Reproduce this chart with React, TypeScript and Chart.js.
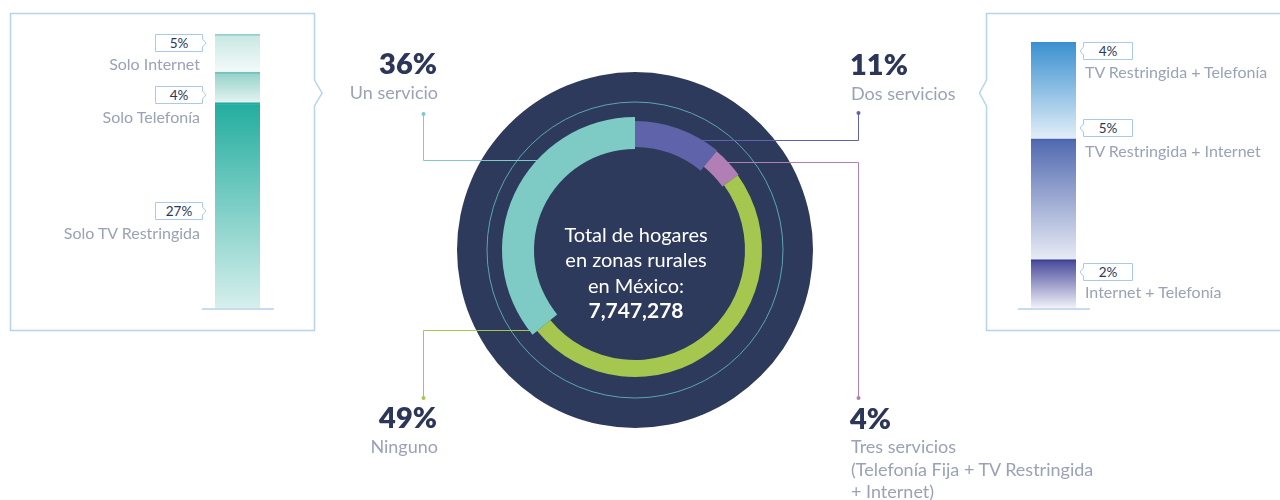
import React, { useEffect, useRef } from 'react';
import { Chart, registerables } from 'chart.js';

Chart.register(...registerables);

// ---------- data ----------
const ringLabels = ['Dos servicios', 'Tres servicios', 'Ninguno', 'Un servicio'];
const ringValues = [11, 4, 49, 36];
const ringPercentText = ['11%', '4%', '49%', '36%'];

const leftLabels = ['Solo TV Restringida', 'Solo Telefonía', 'Solo Internet'];
const leftValues = [27, 4, 5];

const rightLabels = ['Internet + Telefonía', 'TV Restringida + Internet', 'TV Restringida + Telefonía'];
const rightValues = [2, 5, 4];

const centerTitle = 'Total de hogares\nen zonas rurales\nen México:';
const centerTotal = '7,747,278';
const tresDetail = '(Telefonía Fija + TV Restringida\n+ Internet)';

// ---------- styles ----------
const FONT = 'Lato, "Noto Sans", sans-serif';
const GREY = '#9aa2b7';
const NAVY = '#2c3659';
const BOX = '#a9cbe8';

const ringColors = ['#5f63a9', '#b17fb6', '#a5c74f', '#7ecac5'];
const ringRadii = [[103, 129], [108, 128], [110, 127], [101, 133]];
// leader: dot (relative to centre), horizontal y (null = from segment mid-angle)
const leaders = [
  { dx: 223, dy: -137, hy: -110 as number | null },
  { dx: 223, dy: 148, hy: null as number | null },
  { dx: -212, dy: 148, hy: 80 as number | null },
  { dx: -212, dy: -136, hy: -90 as number | null },
];

const leftTop = ['#22ad9e', '#93d1c9', '#c8e7e3'];
const leftBottom = ['#d6efec', '#e4f3f1', '#f3faf9'];
const leftLine = ['#22ad9e', '#74c2b9', '#93d1c9'];

const rightTop = ['#46489a', '#5068b0', '#3b90d0'];
const rightBottom = ['#f1f1f8', '#e8ebf5', '#e2eef8'];
const rightLine = ['#3e4090', '#4a62ab', '#3b8fd0'];

const donutPlugin = {
  id: 'donutDecor',
  afterDatasetsUpdate(chart: any) {
    const meta = chart.getDatasetMeta(0);
    meta.data.forEach((arc: any, i: number) => {
      arc.innerRadius = ringRadii[i][0];
      arc.outerRadius = ringRadii[i][1];
    });
  },
  beforeDatasetsDraw(chart: any) {
    const meta = chart.getDatasetMeta(0);
    if (!meta.data.length) return;
    const cx = meta.data[0].x;
    const cy = meta.data[0].y;
    const ctx = chart.ctx;
    ctx.save();
    ctx.fillStyle = '#2e3a5c';
    ctx.beginPath();
    ctx.arc(cx, cy, 178, 0, Math.PI * 2);
    ctx.fill();
    ctx.strokeStyle = '#5aa6ae';
    ctx.lineWidth = 1;
    ctx.beginPath();
    ctx.arc(cx, cy, 148, 0, Math.PI * 2);
    ctx.stroke();

    meta.data.forEach((arc: any, i: number) => {
      const L = leaders[i];
      const rMid = (ringRadii[i][0] + ringRadii[i][1]) / 2;
      const mid = (arc.startAngle + arc.endAngle) / 2;
      let hy = L.hy;
      let ex: number;
      if (hy === null) {
        hy = Math.sin(mid) * ringRadii[i][1];
        ex = Math.cos(mid) * rMid;
      } else {
        const d = rMid * rMid - hy * hy;
        ex = d > 0 ? Math.sign(L.dx) * Math.sqrt(d) : Math.cos(mid) * rMid;
      }
      ctx.strokeStyle = ringColors[i];
      ctx.fillStyle = ringColors[i];
      ctx.lineWidth = 1;
      ctx.beginPath();
      ctx.moveTo(Math.round(cx + L.dx) + 0.5, cy + L.dy);
      ctx.lineTo(Math.round(cx + L.dx) + 0.5, Math.round(cy + hy) + 0.5);
      ctx.lineTo(cx + ex, Math.round(cy + hy) + 0.5);
      ctx.stroke();
      ctx.beginPath();
      ctx.arc(Math.round(cx + L.dx) + 0.5, cy + L.dy, 2, 0, Math.PI * 2);
      ctx.fill();
    });
    ctx.restore();
  },
};

function makeStack(
  canvas: HTMLCanvasElement,
  labels: string[],
  values: number[],
  tops: string[],
  bottoms: string[],
  lines: string[]
) {
  const total = values.reduce((a, b) => a + b, 0);
  return new Chart(canvas, {
    type: 'bar',
    data: {
      labels: [''],
      datasets: values.map((v, i) => ({
        label: labels[i],
        data: [v],
        barThickness: 45,
        borderWidth: { top: 2, left: 0, right: 0, bottom: 0 },
        borderSkipped: false,
        borderColor: lines[i],
        backgroundColor: (c: any) => {
          const chart = c.chart;
          const y = chart.scales && chart.scales.y;
          if (!chart.chartArea || !y) return tops[i];
          const before = values.slice(0, i).reduce((a, b) => a + b, 0);
          const y0 = y.getPixelForValue(before + v);
          const y1 = y.getPixelForValue(before);
          const g = chart.ctx.createLinearGradient(0, y0, 0, y1);
          g.addColorStop(0, tops[i]);
          g.addColorStop(1, bottoms[i]);
          return g;
        },
      })),
    },
    options: {
      animation: false,
      responsive: false,
      maintainAspectRatio: false,
      layout: { padding: 0 },
      plugins: { legend: { display: false }, tooltip: { enabled: false } },
      scales: {
        x: { display: false, stacked: true },
        y: { display: false, stacked: true, min: 0, max: total },
      },
    } as any,
  });
}

function Txt(props: {
  x: number; base: number; size: number; color: string; weight?: number;
  align?: 'left' | 'right' | 'center'; lh?: number; children: React.ReactNode;
}) {
  const { x, base, size, color, weight = 400, align = 'left', children } = props;
  const lh = props.lh ?? size * 1.2;
  const top = base - 0.987 * size - (lh - 1.2 * size) / 2;
  const st: any = {
    position: 'absolute', top, fontFamily: FONT, fontSize: size, fontWeight: weight,
    color, lineHeight: lh + 'px', whiteSpace: 'pre',
  };
  if (align === 'left') st.left = x;
  else if (align === 'right') { st.right = 1280 - x; st.textAlign = 'right'; }
  else { st.left = x - 200; st.width = 400; st.textAlign = 'center'; }
  return <div style={st}>{children}</div>;
}

function calloutPath(x0: number, y0: number, x1: number, y1: number, side: 'left' | 'right') {
  const ym = (y0 + y1) / 2;
  if (side === 'right') {
    return `M${x0},${y0} H${x1} V${ym - 4} L${x1 + 3.5},${ym} L${x1},${ym + 4} V${y1} H${x0} Z`;
  }
  return `M${x1},${y0} H${x0} V${ym - 4} L${x0 - 3.5},${ym} L${x0},${ym + 4} V${y1} H${x1} Z`;
}

function Callout({ x0, y0, x1, y1, side, text }: any) {
  return (
    <>
      <path d={calloutPath(x0, y0, x1, y1, side)} fill="#fff" stroke={BOX} strokeWidth={1} />
      <text x={(x0 + x1) / 2} y={y1 - 4} textAnchor="middle" fontFamily={FONT} fontSize={13.5} fill={NAVY}>{text}</text>
    </>
  );
}

export default function App() {
  const donutRef = useRef<HTMLCanvasElement>(null);
  const leftRef = useRef<HTMLCanvasElement>(null);
  const rightRef = useRef<HTMLCanvasElement>(null);

  useEffect(() => {
    const donut = new Chart(donutRef.current!, {
      type: 'doughnut',
      data: {
        labels: ringLabels,
        datasets: [{ data: ringValues, backgroundColor: ringColors, borderWidth: 0 }],
      },
      options: {
        animation: false,
        responsive: false,
        maintainAspectRatio: false,
        layout: { padding: 0 },
        radius: 133,
        cutout: 101,
        rotation: 0,
        plugins: { legend: { display: false }, tooltip: { enabled: false } },
      } as any,
      plugins: [donutPlugin],
    });
    const left = makeStack(leftRef.current!, leftLabels, leftValues, leftTop, leftBottom, leftLine);
    const right = makeStack(rightRef.current!, rightLabels, rightValues, rightTop, rightBottom, rightLine);
    return () => { donut.destroy(); left.destroy(); right.destroy(); };
  }, []);

  return (
    <div style={{ position: 'absolute', left: 0, top: 0, width: 1280, height: 500, overflow: 'hidden', background: '#fff' }}>
      <svg width={1280} height={500} style={{ position: 'absolute', left: 0, top: 0 }}>
        <path d="M10.5,13.5 H314.5 V80 L322,93 L314.5,106 V330.5 H10.5 Z" fill="none" stroke="#b5d4ee" strokeWidth={1.5} />
        <path d="M1290,13.5 H986.5 V80 L979.5,93 L986.5,106 V330.5 H1290" fill="none" stroke="#b5d4ee" strokeWidth={1.5} />
        <line x1={202} y1={309} x2={274} y2={309} stroke="#c6ddf0" strokeWidth={2} />
        <line x1={1018} y1={309} x2={1090} y2={309} stroke="#c6ddf0" strokeWidth={2} />
        <Callout x0={155.5} y0={34.5} x1={202.5} y1={51.5} side="right" text="5%" />
        <Callout x0={155.5} y0={86.5} x1={202.5} y1={103.5} side="right" text="4%" />
        <Callout x0={155.5} y0={202.5} x1={202.5} y1={219.5} side="right" text="27%" />
        <Callout x0={1083.5} y0={42.5} x1={1132.5} y1={59.5} side="left" text="4%" />
        <Callout x0={1083.5} y0={119.5} x1={1132.5} y1={136.5} side="left" text="5%" />
        <Callout x0={1083.5} y0={263.5} x1={1132.5} y1={280.5} side="left" text="2%" />
      </svg>

      <canvas ref={leftRef} width={85} height={274} style={{ position: 'absolute', left: 195, top: 34, width: 85, height: 274 }} />
      <canvas ref={rightRef} width={85} height={266} style={{ position: 'absolute', left: 1011, top: 42, width: 85, height: 266 }} />
      <canvas ref={donutRef} width={480} height={380} style={{ position: 'absolute', left: 395, top: 60, width: 480, height: 380 }} />

      <Txt x={200} base={70} size={16} color={GREY} align="right">{leftLabels[2]}</Txt>
      <Txt x={200} base={123} size={16} color={GREY} align="right">{leftLabels[1]}</Txt>
      <Txt x={200} base={239} size={16} color={GREY} align="right">{leftLabels[0]}</Txt>

      <Txt x={1085} base={78} size={16} color={GREY}>{rightLabels[2]}</Txt>
      <Txt x={1085} base={157} size={16} color={GREY}>{rightLabels[1]}</Txt>
      <Txt x={1085} base={298} size={16} color={GREY}>{rightLabels[0]}</Txt>

      <Txt x={437} base={75} size={29} weight={800} color={NAVY} align="right">{ringPercentText[3]}</Txt>
      <Txt x={438} base={100} size={18} color={GREY} align="right">{ringLabels[3]}</Txt>

      <Txt x={437} base={429} size={29} weight={800} color={NAVY} align="right">{ringPercentText[2]}</Txt>
      <Txt x={438} base={454} size={18} color={GREY} align="right">{ringLabels[2]}</Txt>

      <Txt x={850} base={76} size={29} weight={800} color={NAVY}>{ringPercentText[0]}</Txt>
      <Txt x={851} base={101} size={18} color={GREY}>{ringLabels[0]}</Txt>

      <Txt x={850} base={430} size={29} weight={800} color={NAVY}>{ringPercentText[1]}</Txt>
      <Txt x={851} base={454} size={18} color={GREY}>{ringLabels[1]}</Txt>
      <Txt x={851} base={476} size={18} lh={22} color={GREY}>{tresDetail}</Txt>

      <Txt x={636} base={242} size={20} lh={25.5} color="#ffffff" align="center">{centerTitle}</Txt>
      <Txt x={636} base={318} size={21} weight={700} color="#ffffff" align="center">{centerTotal}</Txt>
    </div>
  );
}
